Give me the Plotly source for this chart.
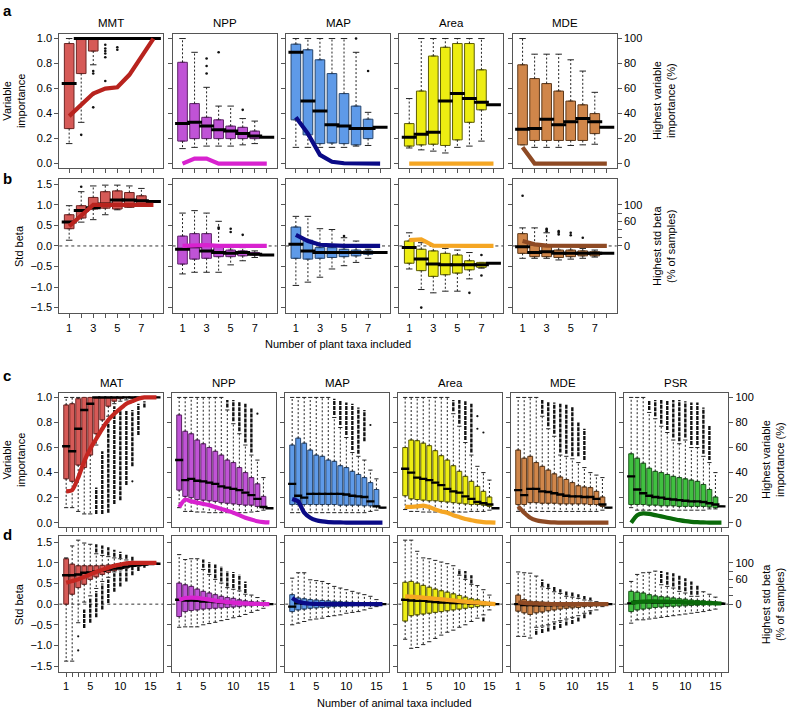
import plotly.graph_objects as go

# ---------------------------------------------------------------- categories
PLANT_N = [1, 2, 3, 4, 5, 6, 7, 8]
ANIMAL_N = [1, 2, 3, 4, 5, 6, 7, 8, 9, 10, 11, 12, 13, 14, 15, 16]
PLANT_VARS = ["MMT", "NPP", "MAP", "Area", "MDE"]
ANIMAL_VARS = ["MAT", "NPP", "MAP", "Area", "MDE", "PSR"]
PLANT_XLABELS = ["1", "", "3", "", "5", "", "7", ""]
ANIMAL_XLABELS = ["1", "", "", "", "5", "", "", "", "", "10", "", "", "", "", "15", ""]
VI_TICKS = [0, 0.2, 0.4, 0.6, 0.8, 1.0]
VI_LABELS = ["0.0", "0.2", "0.4", "0.6", "0.8", "1.0"]
SB_TICKS = [-1.5, -1.0, -0.5, 0, 0.5, 1.0, 1.5]
SB_LABELS = ["\u22121.5", "\u22121.0", "\u22120.5", "0.0", "0.5", "1.0", "1.5"]
PCT_TICKS = [0, 20, 40, 60, 80, 100]
PCT_LABELS_A = ["0", "20", "40", "60", "80", "100"]
PCT_LABELS_B = ["0", "", "", "60", "", "100"]

# ---------------------------------------------------------------- panel a
a_mmt_lo = [0.16, 0.33, 0.79, 1.0, 1.0, 1.0, 1.0, 1.0]
a_mmt_q1 = [0.28, 0.72, 0.90, 1.0, 1.0, 1.0, 1.0, 1.0]
a_mmt_med = [0.64, 1.0, 1.0, 1.0, 1.0, 1.0, 1.0, 1.0]
a_mmt_q3 = [0.96, 1.0, 1.0, 1.0, 1.0, 1.0, 1.0, 1.0]
a_mmt_hi = [1.0, 1.0, 1.0, 1.0, 1.0, 1.0, 1.0, 1.0]
a_mmt_out_x = [2, 3, 3, 3, 3, 4, 4, 4, 4, 4, 4, 5, 5]
a_mmt_out_y = [0.23, 0.74, 0.72, 0.55, 0.45, 0.95, 0.92, 0.90, 0.88, 0.85, 0.66, 0.93, 0.91]
a_mmt_line = [38, 47, 56, 60, 61, 71, 86, 100]

a_npp_lo = [0.12, 0.13, 0.14, 0.14, 0.14, 0.15, 0.16, 0.21]
a_npp_q1 = [0.18, 0.20, 0.20, 0.20, 0.20, 0.20, 0.20, 0.21]
a_npp_med = [0.32, 0.33, 0.30, 0.27, 0.26, 0.24, 0.22, 0.21]
a_npp_q3 = [0.81, 0.48, 0.37, 0.35, 0.30, 0.29, 0.26, 0.21]
a_npp_hi = [1.0, 0.89, 0.61, 0.46, 0.46, 0.36, 0.34, 0.21]
a_npp_out_x = [3, 3, 3, 4, 6]
a_npp_out_y = [0.84, 0.78, 0.72, 0.89, 0.43]
a_npp_line = [0, 4, 4, 0, 0, 0, 0, 0]

a_map_lo = [0.13, 0.13, 0.13, 0.13, 0.13, 0.14, 0.145, 0.29]
a_map_q1 = [0.35, 0.23, 0.16, 0.165, 0.16, 0.15, 0.20, 0.29]
a_map_med = [0.89, 0.50, 0.42, 0.31, 0.30, 0.28, 0.28, 0.29]
a_map_q3 = [0.955, 0.91, 0.83, 0.72, 0.56, 0.46, 0.355, 0.29]
a_map_hi = [1.0, 1.0, 1.0, 1.0, 1.0, 0.89, 0.41, 0.29]
a_map_out_x = [6, 7]
a_map_out_y = [1.0, 0.74]
a_map_line = [37, 24, 7, 1.5, 0.3, 0, 0, 0]

a_area_lo = [0.125, 0.11, 0.10, 0.085, 0.13, 0.14, 0.18, 0.47]
a_area_q1 = [0.14, 0.15, 0.155, 0.145, 0.19, 0.33, 0.43, 0.47]
a_area_med = [0.21, 0.235, 0.25, 0.50, 0.56, 0.52, 0.49, 0.47]
a_area_q3 = [0.32, 0.58, 0.86, 0.93, 0.96, 0.96, 0.75, 0.47]
a_area_hi = [0.52, 1.0, 1.0, 1.0, 1.0, 1.0, 1.0, 0.47]
a_area_line = [0, 0, 0, 0, 0, 0, 0, 0]

a_mde_lo = [0.15, 0.13, 0.13, 0.13, 0.145, 0.15, 0.155, 0.29]
a_mde_q1 = [0.15, 0.185, 0.185, 0.185, 0.185, 0.185, 0.24, 0.29]
a_mde_med = [0.275, 0.28, 0.355, 0.31, 0.335, 0.36, 0.335, 0.29]
a_mde_q3 = [0.79, 0.68, 0.64, 0.58, 0.50, 0.47, 0.40, 0.29]
a_mde_hi = [1.0, 0.875, 0.875, 0.875, 0.83, 0.74, 0.57, 0.29]
a_mde_line = [13, 0, 0, 0, 0, 0, 0, 0]

# ---------------------------------------------------------------- panel b
b_mmt_lo = [0.14, 0.58, 0.64, 0.76, 0.88, 0.94, 0.96, 1.08]
b_mmt_q1 = [0.42, 0.68, 0.90, 0.92, 0.90, 0.94, 0.98, 1.08]
b_mmt_med = [0.58, 0.86, 0.93, 1.02, 1.12, 1.12, 1.10, 1.08]
b_mmt_q3 = [0.76, 0.98, 1.18, 1.32, 1.34, 1.30, 1.22, 1.08]
b_mmt_hi = [0.98, 1.32, 1.46, 1.48, 1.48, 1.46, 1.40, 1.08]
b_mmt_out_x = [2]
b_mmt_out_y = [1.44]
b_mmt_line = [48, 75, 100, 100, 100, 100, 100, 100]

b_npp_lo = [-0.68, -0.64, -0.64, -0.64, -0.46, -0.36, -0.28, -0.22]
b_npp_q1 = [-0.44, -0.32, -0.30, -0.26, -0.26, -0.24, -0.22, -0.22]
b_npp_med = [-0.08, -0.02, -0.12, -0.16, -0.18, -0.16, -0.20, -0.22]
b_npp_q3 = [0.24, 0.30, 0.30, 0.0, -0.10, -0.12, -0.16, -0.22]
b_npp_hi = [0.80, 0.86, 0.80, 0.60, -0.04, -0.04, -0.12, -0.22]
b_npp_out_x = [4, 4, 5, 5, 6]
b_npp_out_y = [0.45, 0.42, 0.42, 0.34, 0.27]
b_npp_line = [0, 2, 2, 0, 0, 0, 0, 0]

b_map_lo = [-0.96, -0.88, -0.76, -0.56, -0.48, -0.40, -0.30, -0.16]
b_map_q1 = [-0.30, -0.32, -0.30, -0.28, -0.26, -0.24, -0.20, -0.16]
b_map_med = [0.04, -0.12, -0.16, -0.16, -0.16, -0.16, -0.16, -0.16]
b_map_q3 = [0.46, 0.14, -0.04, -0.04, -0.08, -0.10, -0.12, -0.16]
b_map_hi = [0.72, 0.72, 0.42, 0.40, 0.20, 0.12, -0.08, -0.16]
b_map_out_x = [5]
b_map_out_y = [0.24]
b_map_line = [27, 12, 3, 1, 0, 0, 0, 0]

b_area_lo = [-0.56, -1.06, -1.14, -1.10, -1.10, -0.80, -0.54, -0.42]
b_area_q1 = [-0.42, -0.60, -0.74, -0.70, -0.66, -0.58, -0.52, -0.42]
b_area_med = [-0.04, -0.32, -0.44, -0.46, -0.46, -0.46, -0.46, -0.42]
b_area_q3 = [0.12, -0.08, -0.12, -0.18, -0.22, -0.36, -0.40, -0.42]
b_area_hi = [0.32, 0.08, 0.0, -0.06, -0.10, -0.16, -0.40, -0.42]
b_area_out_x = [2, 6, 7, 7]
b_area_out_y = [-1.50, -1.14, -0.22, -0.72]
b_area_line = [14, 16, 1, 0, 0, 0, 0, 0]

b_mde_lo = [-0.30, -0.30, -0.30, -0.34, -0.32, -0.30, -0.27, -0.18]
b_mde_q1 = [-0.18, -0.26, -0.26, -0.28, -0.26, -0.24, -0.24, -0.18]
b_mde_med = [-0.02, -0.16, -0.14, -0.18, -0.18, -0.18, -0.18, -0.18]
b_mde_q3 = [0.30, 0.02, 0.02, -0.10, -0.10, -0.12, -0.14, -0.18]
b_mde_hi = [0.44, 0.44, 0.32, 0.0, 0.0, -0.06, -0.10, -0.18]
b_mde_out_x = [1, 3, 3, 3, 4, 4, 4, 5, 5, 6]
b_mde_out_y = [1.22, 0.36, 0.40, 0.42, 0.36, 0.32, 0.28, 0.32, 0.26, 0.20]
b_mde_line = [12, 4, 1, 0, 0, 0, 0, 0]

# ---------------------------------------------------------------- panel c
c_mat_lo = [0.12, 0.12, 0.09, 0.07, 0.07, 0.62, 0.75, 0.85, 0.95, 0.97, 0.98, 0.99, 1.0, 1.0, 1.0, 1.0]
c_mat_q1 = [0.35, 0.33, 0.46, 0.44, 0.54, 0.71, 0.82, 0.93, 0.97, 0.99, 1.0, 1.0, 1.0, 1.0, 1.0, 1.0]
c_mat_med = [0.61, 0.57, 0.75, 0.90, 0.95, 1.0, 1.0, 1.0, 1.0, 1.0, 1.0, 1.0, 1.0, 1.0, 1.0, 1.0]
c_mat_q3 = [0.94, 0.95, 0.99, 1.0, 1.0, 1.0, 1.0, 1.0, 1.0, 1.0, 1.0, 1.0, 1.0, 1.0, 1.0, 1.0]
c_mat_hi = [1.0, 1.0, 1.0, 1.0, 1.0, 1.0, 1.0, 1.0, 1.0, 1.0, 1.0, 1.0, 1.0, 1.0, 1.0, 1.0]
c_mat_span_x = [6, 7, 8, 9, 10, 11, 12, 13, 14]
c_mat_span_lo = [0.07, 0.07, 0.08, 0.15, 0.18, 0.30, 0.45, 0.70, 0.92]
c_mat_span_hi = [0.28, 0.57, 0.81, 0.93, 0.92, 0.90, 0.90, 0.95, 0.97]
c_mat_out_x = [12]
c_mat_out_y = [0.33]
c_mat_line = [25, 26, 36, 49, 59, 67, 75, 82, 87, 91, 95, 97, 99, 100, 100, 100]

c_npp_lo = [0.12, 0.09, 0.09, 0.085, 0.085, 0.08, 0.08, 0.08, 0.08, 0.08, 0.08, 0.08, 0.085, 0.09, 0.10, 0.115]
c_npp_q1 = [0.26, 0.21, 0.20, 0.185, 0.18, 0.175, 0.17, 0.16, 0.155, 0.15, 0.145, 0.14, 0.14, 0.13, 0.12, 0.115]
c_npp_med = [0.50, 0.34, 0.35, 0.335, 0.33, 0.32, 0.31, 0.29, 0.28, 0.27, 0.26, 0.24, 0.22, 0.19, 0.125, 0.115]
c_npp_q3 = [0.86, 0.73, 0.71, 0.66, 0.63, 0.60, 0.57, 0.54, 0.50, 0.48, 0.44, 0.40, 0.36, 0.31, 0.21, 0.115]
c_npp_hi = [1.0, 1.0, 1.0, 1.0, 1.0, 1.0, 1.0, 1.0, 0.90, 0.79, 0.71, 0.62, 0.54, 0.50, 0.36, 0.115]
c_npp_span_x = [9, 10, 11, 12, 13]
c_npp_span_lo = [0.92, 0.81, 0.73, 0.64, 0.56]
c_npp_span_hi = [0.98, 0.98, 0.97, 0.95, 0.92]
c_npp_out_x = [14]
c_npp_out_y = [0.87]
c_npp_line = [12.5, 18.5, 17, 16, 15, 14, 12.5, 11, 9.5, 8, 6, 4, 2.5, 1.2, 0.5, 0.2]

c_map_lo = [0.08, 0.08, 0.08, 0.08, 0.08, 0.08, 0.08, 0.08, 0.08, 0.08, 0.08, 0.08, 0.08, 0.09, 0.10, 0.12]
c_map_q1 = [0.145, 0.145, 0.145, 0.145, 0.145, 0.145, 0.145, 0.145, 0.14, 0.14, 0.14, 0.14, 0.135, 0.135, 0.13, 0.12]
c_map_med = [0.31, 0.215, 0.20, 0.23, 0.23, 0.23, 0.23, 0.23, 0.23, 0.225, 0.215, 0.21, 0.205, 0.17, 0.13, 0.12]
c_map_q3 = [0.62, 0.675, 0.635, 0.58, 0.54, 0.53, 0.50, 0.49, 0.455, 0.44, 0.41, 0.385, 0.36, 0.32, 0.265, 0.12]
c_map_hi = [1.0, 1.0, 1.0, 1.0, 1.0, 1.0, 1.0, 0.84, 0.76, 0.68, 0.56, 0.53, 0.50, 0.42, 0.35, 0.12]
c_map_span_x = [8, 9, 10, 11, 12, 13]
c_map_span_lo = [0.86, 0.78, 0.70, 0.58, 0.55, 0.65]
c_map_span_hi = [0.99, 0.98, 0.96, 0.95, 0.92, 0.90]
c_map_out_x = [14]
c_map_out_y = [0.78]
c_map_line = [19, 17, 8, 4, 2, 1, 0.5, 0.3, 0.2, 0.1, 0, 0, 0, 0, 0, 0]

c_area_lo = [0.105, 0.09, 0.09, 0.085, 0.085, 0.085, 0.085, 0.085, 0.085, 0.085, 0.085, 0.09, 0.09, 0.09, 0.10, 0.115]
c_area_q1 = [0.215, 0.19, 0.185, 0.18, 0.175, 0.175, 0.17, 0.165, 0.16, 0.155, 0.15, 0.145, 0.145, 0.14, 0.13, 0.115]
c_area_med = [0.43, 0.40, 0.36, 0.35, 0.34, 0.32, 0.30, 0.27, 0.25, 0.24, 0.21, 0.19, 0.165, 0.155, 0.145, 0.115]
c_area_q3 = [0.60, 0.66, 0.655, 0.635, 0.615, 0.575, 0.535, 0.50, 0.455, 0.41, 0.37, 0.33, 0.29, 0.25, 0.205, 0.115]
c_area_hi = [1.0, 1.0, 1.0, 1.0, 1.0, 1.0, 1.0, 1.0, 0.87, 0.77, 0.64, 0.54, 0.45, 0.40, 0.34, 0.115]
c_area_span_x = [9, 10, 11, 12]
c_area_span_lo = [0.89, 0.79, 0.66, 0.56]
c_area_span_hi = [0.98, 0.98, 0.97, 0.95]
c_area_out_x = [13, 13, 14]
c_area_out_y = [0.85, 0.75, 0.72]
c_area_line = [12.7, 12.7, 13, 13.7, 12.5, 10.5, 9, 8, 6, 4.5, 3, 2, 1, 0.5, 0.2, 0]

c_mde_lo = [0.09, 0.09, 0.09, 0.09, 0.09, 0.09, 0.09, 0.09, 0.09, 0.09, 0.09, 0.09, 0.09, 0.09, 0.10, 0.12]
c_mde_q1 = [0.145, 0.145, 0.16, 0.16, 0.155, 0.155, 0.155, 0.15, 0.15, 0.15, 0.15, 0.15, 0.145, 0.145, 0.13, 0.12]
c_mde_med = [0.26, 0.22, 0.27, 0.27, 0.25, 0.245, 0.235, 0.225, 0.215, 0.21, 0.21, 0.205, 0.205, 0.19, 0.145, 0.12]
c_mde_q3 = [0.58, 0.515, 0.53, 0.48, 0.45, 0.42, 0.39, 0.365, 0.345, 0.32, 0.295, 0.285, 0.28, 0.25, 0.205, 0.12]
c_mde_hi = [1.0, 1.0, 1.0, 1.0, 0.85, 0.75, 0.69, 0.54, 0.53, 0.51, 0.48, 0.44, 0.40, 0.38, 0.36, 0.12]
c_mde_span_x = [5, 6, 7, 8, 9, 10, 11, 12]
c_mde_span_lo = [0.87, 0.77, 0.71, 0.56, 0.55, 0.53, 0.53, 0.50]
c_mde_span_hi = [0.98, 0.97, 0.96, 0.95, 0.95, 0.93, 0.80, 0.75]
c_mde_line = [13, 8, 4, 2, 1, 0.5, 0.2, 0, 0, 0, 0, 0, 0, 0, 0, 0]

c_psr_lo = [0.12, 0.10, 0.10, 0.10, 0.10, 0.10, 0.10, 0.10, 0.10, 0.10, 0.10, 0.10, 0.10, 0.11, 0.11, 0.13]
c_psr_q1 = [0.145, 0.145, 0.145, 0.14, 0.14, 0.135, 0.135, 0.135, 0.13, 0.13, 0.13, 0.13, 0.13, 0.125, 0.12, 0.13]
c_psr_med = [0.37, 0.265, 0.235, 0.215, 0.205, 0.20, 0.19, 0.185, 0.18, 0.175, 0.17, 0.17, 0.165, 0.155, 0.145, 0.13]
c_psr_q3 = [0.55, 0.515, 0.475, 0.435, 0.41, 0.40, 0.385, 0.37, 0.36, 0.35, 0.34, 0.33, 0.305, 0.265, 0.205, 0.13]
c_psr_hi = [1.0, 1.0, 1.0, 0.88, 0.83, 0.77, 0.72, 0.66, 0.63, 0.66, 0.60, 0.60, 0.53, 0.48, 0.40, 0.13]
c_psr_span_x = [4, 5, 6, 7, 8, 9, 10, 11, 12, 13, 14]
c_psr_span_lo = [0.90, 0.85, 0.79, 0.74, 0.68, 0.65, 0.68, 0.62, 0.62, 0.55, 0.50]
c_psr_span_hi = [0.98, 0.98, 0.98, 0.98, 0.98, 0.98, 0.97, 0.96, 0.96, 0.92, 0.78]
c_psr_line = [0, 6, 7.4, 7, 6, 5, 4, 3, 2, 1.2, 0.7, 0.4, 0.2, 0.1, 0, 0]

# ---------------------------------------------------------------- panel d
d_mat_lo = [-1.38, -1.38, -0.45, 0.05, 0.20, 0.38, 0.55, 0.65, 0.78, 0.83, 0.87, 0.91, 0.92, 0.94, 0.96, 0.97]
d_mat_q1 = [0.0, 0.24, 0.40, 0.48, 0.60, 0.66, 0.72, 0.77, 0.81, 0.85, 0.88, 0.91, 0.93, 0.95, 0.96, 0.97]
d_mat_med = [0.70, 0.70, 0.72, 0.76, 0.77, 0.79, 0.81, 0.84, 0.86, 0.88, 0.91, 0.93, 0.95, 0.96, 0.97, 0.98]
d_mat_q3 = [1.10, 0.97, 0.93, 0.93, 0.93, 0.93, 0.94, 0.95, 0.96, 0.97, 0.98, 0.98, 0.99, 0.99, 0.99, 0.99]
d_mat_hi = [1.12, 1.41, 1.55, 1.48, 1.45, 1.22, 1.18, 1.15, 1.12, 1.10, 1.07, 1.03, 1.01, 1.0, 0.99, 0.99]
d_mat_span_x = [6, 7, 8, 9, 10, 11, 12, 4, 5, 6, 7, 8, 9, 10, 11, 12, 13, 14]
d_mat_span_lo = [1.25, 1.22, 1.18, 1.15, 1.12, 1.10, 1.05, -0.58, -0.45, -0.32, -0.13, 0.03, 0.30, 0.43, 0.55, 0.70, 0.80, 0.88]
d_mat_span_hi = [1.45, 1.42, 1.38, 1.32, 1.27, 1.22, 1.15, -0.13, 0.15, 0.32, 0.50, 0.60, 0.75, 0.80, 0.85, 0.90, 0.91, 0.93]
d_mat_out_x = [3, 3]
d_mat_out_y = [-0.78, -1.12]
d_mat_line = [52, 56, 60, 66, 72, 78, 83, 88, 93, 96, 99, 100, 100, 100, 100, 100]

d_npp_lo = [-0.56, -0.55, -0.55, -0.55, -0.50, -0.47, -0.44, -0.40, -0.37, -0.33, -0.30, -0.25, -0.20, -0.15, -0.10, 0.0]
d_npp_q1 = [-0.30, -0.18, -0.155, -0.14, -0.12, -0.11, -0.10, -0.09, -0.08, -0.07, -0.06, -0.04, -0.04, -0.03, -0.02, 0.0]
d_npp_med = [0.105, 0.09, 0.09, 0.08, 0.065, 0.065, 0.05, 0.04, 0.025, 0.025, 0.01, 0.01, 0.01, 0.0, 0.0, 0.0]
d_npp_q3 = [0.51, 0.47, 0.43, 0.365, 0.31, 0.27, 0.23, 0.19, 0.16, 0.14, 0.105, 0.08, 0.065, 0.05, 0.04, 0.0]
d_npp_hi = [1.20, 1.08, 1.10, 1.10, 0.84, 0.72, 0.60, 0.51, 0.40, 0.36, 0.32, 0.24, 0.22, 0.16, 0.08, 0.0]
d_npp_span_x = [5, 6, 7, 8, 9, 10, 11, 12]
d_npp_span_lo = [0.88, 0.76, 0.63, 0.55, 0.43, 0.39, 0.35, 0.27]
d_npp_span_hi = [1.08, 1.02, 0.96, 0.92, 0.80, 0.78, 0.72, 0.55]
d_npp_line = [10, 15, 16, 15, 13, 11, 8.5, 6.5, 5, 3.5, 2.5, 1.5, 1, 0.5, 0.2, 0]

d_map_lo = [-0.50, -0.46, -0.42, -0.38, -0.36, -0.34, -0.30, -0.28, -0.26, -0.22, -0.20, -0.18, -0.14, -0.10, -0.06, 0.0]
d_map_q1 = [-0.18, -0.14, -0.12, -0.10, -0.09, -0.08, -0.07, -0.06, -0.05, -0.045, -0.04, -0.035, -0.03, -0.02, -0.015, 0.0]
d_map_med = [-0.06, 0.02, 0.01, 0.01, 0.0, 0.0, 0.0, 0.0, 0.0, 0.0, 0.0, 0.0, 0.0, 0.0, 0.0, 0.0]
d_map_q3 = [0.23, 0.15, 0.13, 0.11, 0.10, 0.09, 0.08, 0.07, 0.06, 0.05, 0.045, 0.04, 0.03, 0.02, 0.015, 0.0]
d_map_hi = [0.63, 0.76, 0.76, 0.59, 0.57, 0.55, 0.50, 0.43, 0.39, 0.35, 0.31, 0.27, 0.23, 0.19, 0.11, 0.0]
d_map_line = [15, 6, 2.5, 1, 0.5, 0, 0, 0, 0, 0, 0, 0, 0, 0, 0, 0]

d_area_lo = [-0.85, -1.07, -1.05, -0.98, -0.91, -0.83, -0.75, -0.68, -0.63, -0.56, -0.50, -0.42, -0.34, -0.26, -0.14, 0.0]
d_area_q1 = [-0.41, -0.28, -0.26, -0.24, -0.22, -0.20, -0.18, -0.16, -0.14, -0.12, -0.10, -0.08, -0.06, -0.04, -0.03, 0.0]
d_area_med = [0.105, 0.09, 0.08, 0.08, 0.065, 0.05, 0.04, 0.04, 0.025, 0.025, 0.025, 0.01, 0.01, 0.0, 0.0, 0.0]
d_area_q3 = [0.53, 0.55, 0.51, 0.455, 0.41, 0.365, 0.325, 0.29, 0.25, 0.21, 0.17, 0.13, 0.105, 0.065, 0.04, 0.0]
d_area_hi = [1.55, 1.55, 1.28, 1.12, 1.10, 1.06, 1.02, 0.98, 0.93, 0.70, 0.60, 0.48, 0.45, 0.35, 0.22, 0.0]
d_area_span_x = [10, 11, 12, 14]
d_area_span_lo = [0.72, 0.62, 0.50, -0.42]
d_area_span_hi = [0.85, 0.80, 0.70, -0.30]
d_area_line = [19, 18, 17, 16, 14.5, 13, 12, 10.5, 9, 7.5, 6, 4.5, 3.5, 2.5, 1.2, 0]

d_mde_lo = [-0.78, -0.78, -0.82, -0.56, -0.53, -0.50, -0.43, -0.40, -0.36, -0.32, -0.28, -0.22, -0.16, -0.14, -0.06, 0.0]
d_mde_q1 = [-0.17, -0.21, -0.25, -0.21, -0.19, -0.16, -0.14, -0.12, -0.10, -0.09, -0.08, -0.06, -0.05, -0.04, -0.03, 0.0]
d_mde_med = [0.0, -0.02, -0.02, -0.03, -0.03, -0.03, -0.02, -0.02, -0.02, -0.02, -0.01, -0.01, -0.01, -0.01, 0.0, 0.0]
d_mde_q3 = [0.22, 0.11, 0.07, 0.06, 0.05, 0.04, 0.035, 0.03, 0.025, 0.02, 0.02, 0.015, 0.01, 0.01, 0.005, 0.0]
d_mde_hi = [0.78, 0.76, 0.75, 0.68, 0.42, 0.38, 0.30, 0.26, 0.19, 0.17, 0.14, 0.10, 0.08, 0.06, 0.04, 0.0]
d_mde_span_x = [5, 6, 7, 8, 9, 10, 11, 12, 13, 4, 5, 6, 7, 8, 9, 10, 11, 12, 13]
d_mde_span_lo = [0.44, 0.40, 0.32, 0.28, 0.21, 0.19, 0.16, 0.12, 0.10, -0.74, -0.70, -0.66, -0.62, -0.58, -0.52, -0.48, -0.42, -0.34, -0.25]
d_mde_span_hi = [0.60, 0.52, 0.44, 0.36, 0.32, 0.28, 0.24, 0.20, 0.16, -0.60, -0.56, -0.52, -0.45, -0.42, -0.38, -0.34, -0.30, -0.24, -0.18]
d_mde_line = [4, 3, 2, 1.5, 1, 0.5, 0.3, 0.2, 0.1, 0, 0, 0, 0, 0, 0, 0]

d_psr_lo = [-0.46, -0.38, -0.38, -0.36, -0.34, -0.32, -0.30, -0.28, -0.26, -0.24, -0.22, -0.20, -0.18, -0.15, -0.12, 0.0]
d_psr_q1 = [-0.18, -0.14, -0.12, -0.10, -0.08, -0.07, -0.06, -0.05, -0.045, -0.04, -0.03, -0.025, -0.02, -0.015, -0.01, 0.0]
d_psr_med = [0.02, 0.065, 0.05, 0.045, 0.04, 0.04, 0.035, 0.03, 0.03, 0.025, 0.025, 0.02, 0.02, 0.015, 0.01, 0.01]
d_psr_q3 = [0.31, 0.29, 0.27, 0.23, 0.20, 0.18, 0.17, 0.15, 0.13, 0.12, 0.10, 0.09, 0.08, 0.07, 0.05, 0.03]
d_psr_hi = [0.55, 0.72, 0.76, 0.77, 0.80, 0.47, 0.43, 0.39, 0.31, 0.27, 0.19, 0.19, 0.30, 0.24, 0.17, 0.03]
d_psr_span_x = [6, 7, 8, 9, 10, 11, 12]
d_psr_span_lo = [0.51, 0.47, 0.43, 0.35, 0.31, 0.23, 0.23]
d_psr_span_hi = [0.80, 0.77, 0.75, 0.71, 0.63, 0.55, 0.47]
d_psr_line = [3, 5, 6, 6.5, 6.5, 6, 6, 5.5, 5, 4.5, 4, 3.5, 3, 2.5, 2, 1.5]

# ---------------------------------------------------------------- styles
FILL = {"MMT": "#D65A57", "MAT": "#D65A57", "NPP": "#C053D6", "MAP": "#5E9AE8",
        "Area": "#EDED12", "MDE": "#D0864A", "PSR": "#40C040"}
BORDER = {"MMT": "#6E2624", "MAT": "#6E2624", "NPP": "#5E2468", "MAP": "#27466E",
          "Area": "#5E5E08", "MDE": "#5E3A1C", "PSR": "#1C5A1C"}
LINEC = {"MMT": "#B8231E", "MAT": "#C42620", "NPP": "#D822CF", "MAP": "#0A0A86",
         "Area": "#F5A623", "MDE": "#8E4A24", "PSR": "#0A6A0A"}
FONT = "Liberation Sans, Arial, Helvetica, sans-serif"
AXC = "#555555"

W, H = 788, 711
ROW_BOUNDS = {"a": (32.3, 166.7), "b": (177.3, 312.7), "c": (392.7, 527.3), "d": (536.7, 672.7)}
ROW_YRANGE = {"a": [-0.035, 1.035], "b": [-1.64, 1.64], "c": [-0.035, 1.035], "d": [-1.64, 1.64]}

fig = go.Figure()
layout = {}
shapes = []
counter = {"k": 0}


def add_panel(row, col, var, cats, lo, q1, med, q3, hi, line,
              out_x=(), out_y=(), span_x=(), span_lo=(), span_hi=()):
    counter["k"] += 1
    k = counter["k"]
    ks = k + 22
    xa = "x" if k == 1 else f"x{k}"
    ya = "y" if k == 1 else f"y{k}"
    ya2 = f"y{ks}"
    plant = row in ("a", "b")
    n = len(cats)
    left = (59.3 + 113.35 * col) if plant else (59.3 + 113.0 * col)
    top, bot = ROW_BOUNDS[row]
    xr = [0.5 - 0.04 * n, n + 0.5 + 0.04 * n]
    ppu = 104.0 / (xr[1] - xr[0])
    yr = ROW_YRANGE[row]
    last = (col == len(PLANT_VARS) - 1) if plant else (col == len(ANIMAL_VARS) - 1)

    # boxes
    fig.add_trace(go.Box(x=cats, q1=q1, median=med, q3=q3, lowerfence=q1, upperfence=q3,
                         width=0.8, fillcolor=FILL[var], line=dict(color=BORDER[var], width=1),
                         boxpoints=False, hoverinfo="skip", showlegend=False,
                         xaxis=xa, yaxis=ya))
    # whiskers (dashed) and caps
    wx, wy, cx, cy = [], [], [], []
    for c, l, a, b, h in zip(cats, lo, q1, q3, hi):
        if h > b:
            wx += [c, c, None]
            wy += [b, h, None]
            cx.append(c)
            cy.append(h)
        if l < a:
            wx += [c, c, None]
            wy += [a, l, None]
            cx.append(c)
            cy.append(l)
    fig.add_trace(go.Scatter(x=wx, y=wy, mode="lines", line=dict(color="#222", width=1, dash="2px,2px"),
                             hoverinfo="skip", showlegend=False, xaxis=xa, yaxis=ya))
    fig.add_trace(go.Scatter(x=cx, y=cy, mode="markers",
                             marker=dict(symbol="line-ew", size=max(0.4 * 0.8 * ppu * 1.2, 3),
                                         line=dict(color="#222", width=1)),
                             hoverinfo="skip", showlegend=False, xaxis=xa, yaxis=ya))
    # dense outlier columns
    if len(span_x):
        sx, sy = [], []
        for c, a, b in zip(span_x, span_lo, span_hi):
            sx += [c, c, None]
            sy += [a, b, None]
        fig.add_trace(go.Scatter(x=sx, y=sy, mode="lines", line=dict(color="#111", width=2.4, dash="4px,1px"),
                                 hoverinfo="skip", showlegend=False, xaxis=xa, yaxis=ya))
    # single outliers
    if len(out_x):
        fig.add_trace(go.Scatter(x=list(out_x), y=list(out_y), mode="markers",
                                 marker=dict(symbol="circle", size=2.6 if plant else 2.2, color="#111"),
                                 hoverinfo="skip", showlegend=False, xaxis=xa, yaxis=ya))
    # medians
    fig.add_trace(go.Scatter(x=cats, y=med, mode="markers",
                             marker=dict(symbol="line-ew", size=0.8 * ppu + 1,
                                         line=dict(color="black", width=3 if plant else 2.4)),
                             hoverinfo="skip", showlegend=False, xaxis=xa, yaxis=ya))
    # highest-importance line on the secondary axis
    fig.add_trace(go.Scatter(x=cats, y=line, mode="lines",
                             line=dict(color=LINEC[var], width=4.2,
                                       shape="linear" if plant else "spline", smoothing=0.6),
                             hoverinfo="skip", showlegend=False, xaxis=xa, yaxis=ya2))

    vi = row in ("a", "c")
    first = col == 0
    bottom_labels = row in ("b", "d")
    if plant:
        xt = PLANT_XLABELS if bottom_labels else [""] * n
    else:
        xt = ANIMAL_XLABELS if bottom_labels else [""] * n
    layout["xaxis" if k == 1 else f"xaxis{k}"] = dict(
        domain=[left / W, (left + 104) / W], range=xr, anchor=ya,
        tickmode="array", tickvals=cats, ticktext=xt,
        ticks="outside", ticklen=4, tickwidth=1, tickcolor=AXC,
        showline=True, mirror=True, linecolor=AXC, linewidth=1,
        showgrid=False, zeroline=False, tickfont=dict(size=11, color="black", family=FONT),
        fixedrange=True)
    yt = VI_TICKS if vi else SB_TICKS
    yl = (VI_LABELS if vi else SB_LABELS) if first else [""] * len(yt)
    layout["yaxis" if k == 1 else f"yaxis{k}"] = dict(
        domain=[1 - bot / H, 1 - top / H], range=yr, anchor=xa,
        tickmode="array", tickvals=yt, ticktext=yl,
        ticks="outside", ticklen=4, tickwidth=1, tickcolor=AXC,
        showline=True, mirror=True, linecolor=AXC, linewidth=1,
        showgrid=False, zeroline=False, tickfont=dict(size=11, color="black", family=FONT),
        fixedrange=True)
    sec = dict(overlaying=ya, anchor=xa, side="right", range=[yr[0] * 100, yr[1] * 100],
               showgrid=False, zeroline=False, showline=False, fixedrange=True)
    if last:
        sec.update(tickmode="array", tickvals=PCT_TICKS,
                   ticktext=PCT_LABELS_A if vi else PCT_LABELS_B,
                   ticks="outside", ticklen=4, tickwidth=1, tickcolor=AXC,
                   tickfont=dict(size=11, color="black", family=FONT))
    else:
        sec.update(showticklabels=False, ticks="")
    layout[f"yaxis{ks}"] = sec

    if not vi:
        shapes.append(dict(type="line", xref=f"{xa} domain", x0=0, x1=1, yref=ya, y0=0, y1=0,
                           line=dict(color="#333", width=1, dash="3px,3px"), layer="below"))


G = globals()
for ci, v in enumerate(PLANT_VARS):
    key = v.lower()
    for r in ("a", "b"):
        p = f"{r}_{key}_"
        add_panel(r, ci, v, PLANT_N, G[p + "lo"], G[p + "q1"], G[p + "med"], G[p + "q3"], G[p + "hi"],
                  G[p + "line"], G.get(p + "out_x", ()), G.get(p + "out_y", ()))
for ci, v in enumerate(ANIMAL_VARS):
    key = v.lower()
    for r in ("c", "d"):
        p = f"{r}_{key}_"
        add_panel(r, ci, v, ANIMAL_N, G[p + "lo"], G[p + "q1"], G[p + "med"], G[p + "q3"], G[p + "hi"],
                  G[p + "line"], G.get(p + "out_x", ()), G.get(p + "out_y", ()),
                  G.get(p + "span_x", ()), G.get(p + "span_lo", ()), G.get(p + "span_hi", ()))

# ---------------------------------------------------------------- annotations
ann = []


def note(text, px, py, size=11, bold=False, angle=0, xanchor="center"):
    ann.append(dict(text=f"<b>{text}</b>" if bold else text, x=px / W, y=1 - py / H,
                    xref="paper", yref="paper", showarrow=False, textangle=angle,
                    xanchor=xanchor, yanchor="middle",
                    font=dict(size=size, color="black", family=FONT)))


for ci, v in enumerate(PLANT_VARS):
    note(v, 59.3 + 113.35 * ci + 52, 21, size=11.5)
for ci, v in enumerate(ANIMAL_VARS):
    note(v, 59.3 + 113.0 * ci + 52, 383, size=11.5)

note("a", 1, 9, size=15, bold=True, xanchor="left")
note("b", 1, 177, size=15, bold=True, xanchor="left")
note("c", 1, 375, size=15, bold=True, xanchor="left")
note("d", 1, 535, size=15, bold=True, xanchor="left")

note("Variable<br>importance", 14, 99.5, angle=-90)
note("Std beta", 19, 245, angle=-90)
note("Variable<br>importance", 14, 460, angle=-90)
note("Std beta", 19, 604.7, angle=-90)

note("Highest variable<br>importance (%)", 664, 99.5, angle=-90)
note("Highest std beta<br>(% of samples)", 664, 245, angle=-90)
note("Highest variable<br>importance (%)", 773, 460, angle=-90)
note("Highest std beta<br>(% of samples)", 773, 604.7, angle=-90)

note("Number of plant taxa included", 338, 343)
note("Number of animal taxa included", 394, 704)

fig.update_layout(
    width=W, height=H, autosize=False,
    margin=dict(l=0, r=0, t=0, b=0),
    paper_bgcolor="white", plot_bgcolor="white",
    font=dict(family=FONT, size=11, color="black"),
    showlegend=False, boxmode="overlay",
    annotations=ann, shapes=shapes,
    **layout)

fig.write_html("out.html", config={"displayModeBar": False},
               post_script="document.body.style.margin='0px';document.body.style.overflow='hidden';")
